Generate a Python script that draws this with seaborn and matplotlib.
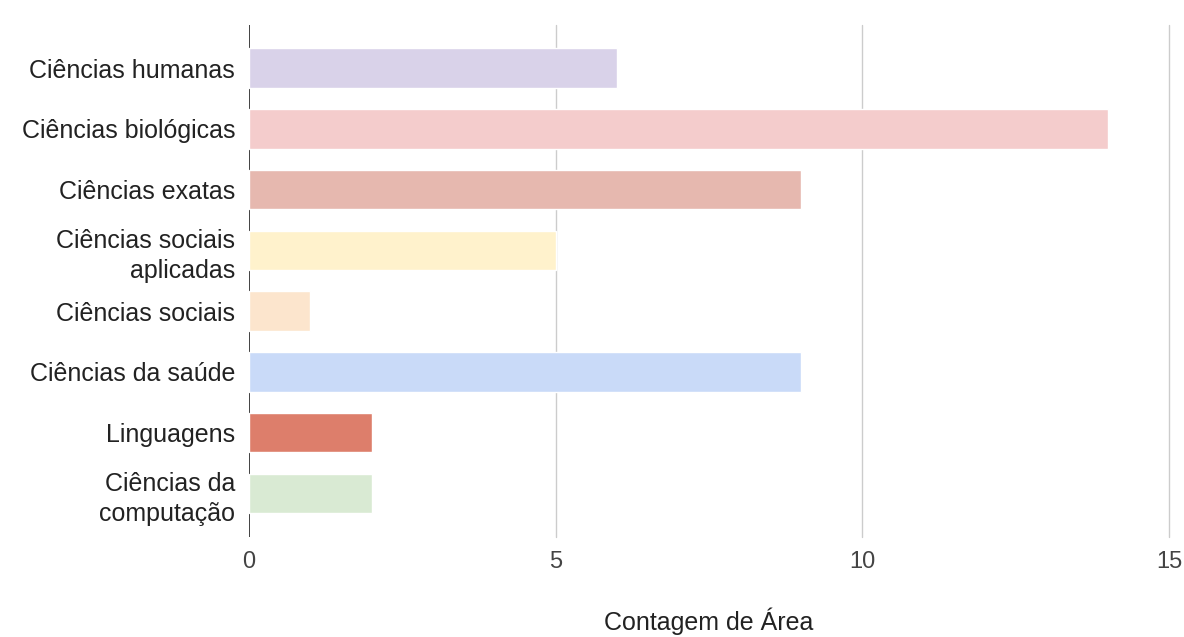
import matplotlib
matplotlib.use("Agg")
import matplotlib.pyplot as plt
import seaborn as sns
import pandas as pd

categories = ["Ciências humanas", "Ciências biológicas", "Ciências exatas",
              "Ciências sociais\naplicadas", "Ciências sociais", "Ciências da saúde",
              "Linguagens", "Ciências da\ncomputação"]
counts = [6, 14, 9, 5, 1, 9, 2, 2]
colors = ["#d9d2e9", "#f4cccc", "#e6b8af", "#fff2cc", "#fce5cd", "#c9daf8",
          "#dd7e6b", "#d9ead3"]
x_ticks = [0, 5, 10, 15]
x_label = "Contagem de Área"

sns.set_theme(style="white")
plt.rcParams['font.family'] = ['Liberation Sans', 'DejaVu Sans']

df = pd.DataFrame({"cat": categories, "n": counts})

fig = plt.figure(figsize=(11.84, 6.37), dpi=100)
ax = fig.add_axes([249/1184, 1 - 537/637, (1169-249)/1184, (537-25)/637])

sns.barplot(data=df, y="cat", x="n", hue="cat", palette=colors, legend=False,
            orient="h", width=0.65, ax=ax, zorder=3, saturation=1)

ax.set_xlim(0, 15)
ax.set_ylim(7.72, -0.71)
for v in x_ticks[1:]:
    ax.axvline(v, color="#cccccc", lw=1, zorder=1, clip_on=False)
ax.axvline(0, color="#333333", lw=1.3, zorder=2)

for s in ax.spines.values():
    s.set_visible(False)
ax.set_xticks(x_ticks)
ax.set_xticklabels([str(t) for t in x_ticks], fontsize=17, color="#444444")
ax.tick_params(axis="x", length=0, pad=10)
ax.tick_params(axis="y", length=0, pad=10)
for lbl in ax.get_yticklabels():
    lbl.set_fontsize(18)
    lbl.set_color("#222222")
    lbl.set_linespacing(1.35)
ax.set_ylabel("")
ax.set_xlabel("")
fig.text(709/1184, 1 - 621/637, x_label, fontsize=18, color="#222222",
         ha="center", va="center")

fig.savefig("out.png", dpi=100)
